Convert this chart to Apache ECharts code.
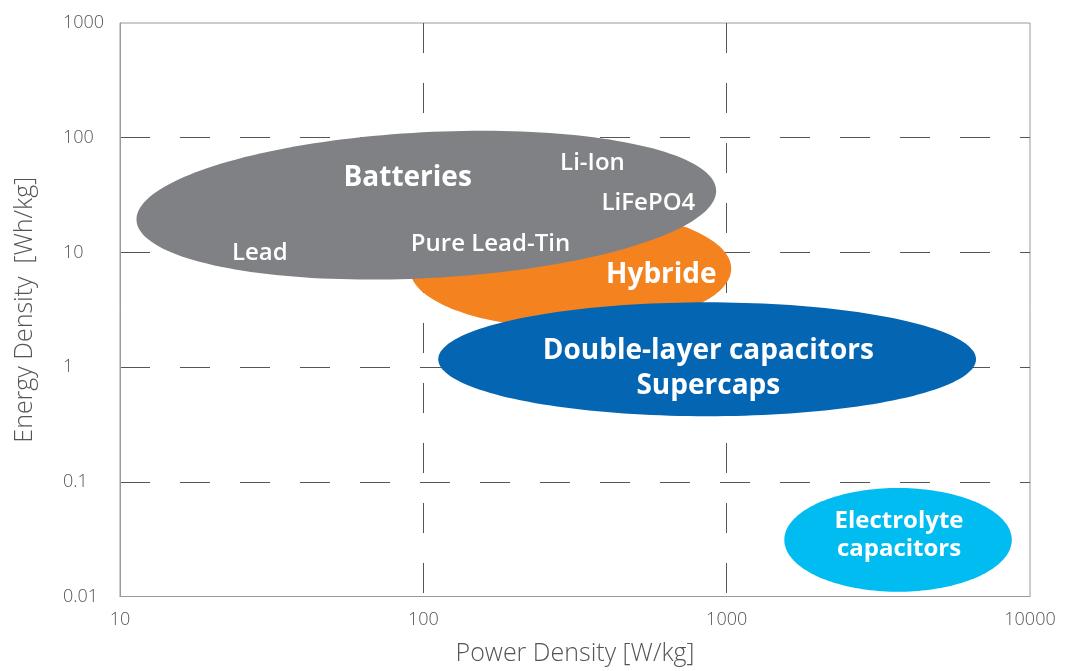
<!DOCTYPE html>
<html><head><meta charset="utf-8">
<script src="https://cdn.jsdelivr.net/npm/echarts@6/dist/echarts.min.js"></script>
<style>html,body{margin:0;padding:0;background:#fff}#c{width:1071px;height:671px}</style>
</head><body><div id="c"></div>
<script>
// Axis ticks
const xTicks = [10, 100, 1000, 10000];
const xTickLabels = ['10', '100', '1000', '10000'];
const yTicks = [0.01, 0.1, 1, 10, 100, 1000];
const yTickLabels = ['0.01', '0.1', '1', '10', '100', '1000'];

// Regions (ellipses) in data space: power range [W/kg], energy range [Wh/kg], tilt (deg)
const regionNames = ['Hybride', 'Batteries', 'Double-layer capacitors', 'Electrolyte capacitors'];
const regionPowerMin = [90.2, 11.3, 112, 1549];
const regionPowerMax = [1035, 926, 6637, 8709];
const regionEnergyMin = [2.19, 5.97, 0.373, 0.011];
const regionEnergyMax = [23.8, 111.6, 3.67, 0.0883];
const regionTilt = [0, 3, 0, 0];

// Text annotations anchored in data space
const labelTexts = ['Batteries', 'Li-Ion', 'LiFePO4', 'Lead', 'Pure Lead-Tin', 'Hybride',
  'Double-layer capacitors\nSupercaps', 'Electrolyte\ncapacitors'];
const labelPower = [88.8, 361, 552, 28.9, 166.5, 609, 870, 3700];
const labelEnergy = [44.1, 59.4, 27.1, 9.92, 11.75, 6.41, 0.969, 0.0343];

const regionColors = ['#f3821f', '#808184', '#0466b2', '#00bcf1'];
const labelKinds = ['big', 'small', 'small', 'small', 'small', 'big', 'big', 'mid'];
const FONT = '"Open Sans", "Noto Sans", sans-serif';
const kindStyle = {
  big: { fontSize: 28, fontWeight: 'bold', lineHeight: 35 },
  mid: { fontSize: 24, fontWeight: 'bold', lineHeight: 28 },
  small: { fontSize: 24, fontWeight: 600, lineHeight: 26 }
};

function fmt(ticks, labels) {
  return function (v) {
    const i = ticks.findIndex(t => Math.abs(Math.log10(t) - Math.log10(v)) < 1e-6);
    return i >= 0 ? labels[i] : '';
  };
}

const regionData = regionNames.map((n, i) => ({
  name: n,
  value: [regionPowerMin[i], regionPowerMax[i], regionEnergyMin[i], regionEnergyMax[i], regionTilt[i]]
}));
const labelData = labelTexts.map((t, i) => ({ name: t, value: [labelPower[i], labelEnergy[i]] }));

function renderEllipse(params, api) {
  const i = params.dataIndex;
  const a = api.coord([api.value(0), api.value(2)]);
  const b = api.coord([api.value(1), api.value(3)]);
  const cx = (a[0] + b[0]) / 2, cy = (a[1] + b[1]) / 2;
  const rx = Math.abs(b[0] - a[0]) / 2, ry = Math.abs(b[1] - a[1]) / 2;
  const t = api.value(4) * Math.PI / 180;
  const pts = [];
  const N = 180;
  for (let k = 0; k < N; k++) {
    const ang = k / N * 2 * Math.PI;
    const ex = rx * Math.cos(ang), ey = ry * Math.sin(ang);
    pts.push([cx + ex * Math.cos(t) + ey * Math.sin(t), cy - ex * Math.sin(t) + ey * Math.cos(t)]);
  }
  return { type: 'polygon', shape: { points: pts }, style: { fill: regionColors[i] } };
}

function renderLabel(params, api) {
  const i = params.dataIndex;
  const p = api.coord([api.value(0), api.value(1)]);
  const s = kindStyle[labelKinds[i]];
  return {
    type: 'text', x: p[0], y: p[1], z2: 10,
    style: {
      text: labelTexts[i], fill: '#ffffff', fontFamily: FONT,
      fontSize: s.fontSize, fontWeight: s.fontWeight, lineHeight: s.lineHeight,
      align: 'center', verticalAlign: 'middle'
    }
  };
}

const chart = echarts.init(document.getElementById('c'), null, { renderer: 'canvas' });
chart.setOption({
  animation: false,
  backgroundColor: '#ffffff',
  grid: { left: 120, top: 23, width: 910, height: 578, show: true, borderColor: '#9a9a9a', borderWidth: 1, backgroundColor: 'transparent' },
  xAxis: {
    type: 'log', logBase: 10, min: 10, max: 10000,
    name: 'Power Density [W/kg]', nameLocation: 'middle', nameGap: 57,
    nameTextStyle: { fontFamily: FONT, fontSize: 25, fontWeight: 300, color: '#555', verticalAlign: 'middle' },
    axisLine: { show: true, lineStyle: { color: '#9a9a9a', width: 1 } },
    axisTick: { show: false },
    minorTick: { show: false },
    axisLabel: { formatter: fmt(xTicks, xTickLabels), fontFamily: FONT, fontSize: 18, fontWeight: 300, color: '#555', margin: 14 },
    splitLine: { show: true, showMinLine: false, showMaxLine: false, lineStyle: { color: '#555', width: 1, type: [30, 30] } }
  },
  yAxis: {
    type: 'log', logBase: 10, min: 0.01, max: 1000,
    name: 'Energy Density  [Wh/kg]', nameLocation: 'middle', nameGap: 95,
    nameTextStyle: { fontFamily: FONT, fontSize: 25, fontWeight: 300, color: '#555', verticalAlign: 'middle' },
    axisLine: { show: true, lineStyle: { color: '#9a9a9a', width: 1 } },
    axisTick: { show: false },
    minorTick: { show: false },
    axisLabel: { formatter: fmt(yTicks, yTickLabels), fontFamily: FONT, fontSize: 18, fontWeight: 300, color: '#555', margin: 57, align: 'left' },
    splitLine: { show: true, showMinLine: false, showMaxLine: false, lineStyle: { color: '#555', width: 1, type: [30, 30] } }
  },
  series: [
    { type: 'custom', name: 'regions', renderItem: renderEllipse, data: regionData, clip: false, z: 2,
      encode: { x: [0, 1], y: [2, 3] } },
    { type: 'custom', name: 'labels', renderItem: renderLabel, data: labelData, clip: false, z: 3,
      encode: { x: 0, y: 1 } }
  ]
});
</script></body></html>
